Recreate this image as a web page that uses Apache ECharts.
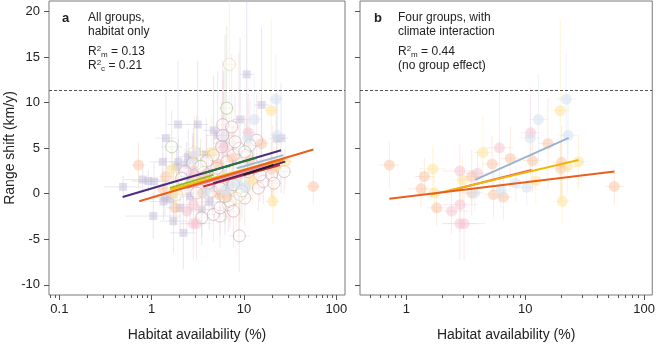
<!DOCTYPE html>
<html>
<head>
<meta charset="utf-8">
<script src="https://cdn.jsdelivr.net/npm/echarts@6/dist/echarts.min.js"></script>
<style>
  html, body { margin: 0; padding: 0; background: #fff; }
  #chart { width: 658px; height: 347px; }
</style>
</head>
<body>
<div id="chart"></div>
<script>
// 每个点: [habitat %, range shift, y误差半宽, x误差倍数]
var squarePts = [
    [0.49, 0.75, 1.2, 1.6], [0.80, 1.55, 1.5, 1.6], [0.92, 1.4, 1.2, 1.5], [1.06, 1.35, 2.0, 1.5],
    [1.32, 3.5, 3.0, 1.4], [1.43, 6.1, 5.0, 1.3], [1.04, -2.45, 2.5, 2.0], [1.93, 7.6, 7.0, 1.3],
    [3.15, 7.6, 7.0, 1.3], [2.2, -4.3, 4.0, 1.4], [1.72, -0.1, 2.5, 1.5], [1.39, -0.4, 2.0, 1.4],
    [3.07, 4.6, 4.0, 1.3], [2.82, 4.25, 3.0, 1.3], [3.48, -1.75, 3.0, 1.4], [2.39, 3.15, 2.5, 1.3],
    [4.69, 6.96, 6.0, 1.3], [5.18, 6.4, 7.0, 1.3], [5.98, 5.5, 8.0, 1.3], [6.23, 6.4, 11.0, 1.2],
    [9.06, 8.15, 9.0, 1.2], [10.7, 13.1, 9.0, 1.2], [15.5, 9.75, 8.5, 1.2], [22.6, 6.05, 5.0, 1.2],
    [25.2, 6.1, 6.0, 1.2], [1.94, 3.5, 2.5, 1.3], [2.49, 4.05, 3.0, 1.3], [1.34, -0.85, 2.0, 1.4],
    [1.72, -3.0, 3.5, 1.4], [2.03, -1.55, 2.5, 1.4], [1.86, 2.95, 2.5, 1.3], [2.49, 1.9, 2.5, 1.3],
    [2.82, 3.7, 3.0, 1.3], [1.58, -0.65, 2.0, 1.3], [2.6, -0.3, 2.5, 1.3], [4.6, 0.6, 3.0, 1.3],
    [3.9, 4.3, 4.0, 1.3], [7.0, 0.9, 4.0, 1.2], [4.2, -0.9, 3.0, 1.3]
];

var openMauve = [
    [5.88, 7.58, 7, 1.2], [7.36, 7.33, 8, 1.2], [5.88, 6.41, 6, 1.2], [5.72, 5.15, 5, 1.2],
    [4.65, 4.24, 4, 1.2], [3.94, 3.59, 3, 1.2], [2.78, 3.34, 3, 1.2], [2.3, 2.43, 2.5, 1.2],
    [2.11, 1.7, 2, 1.2], [3.07, 0.08, 2, 1.2], [4.46, 0.26, 2.5, 1.2], [5.5, 0.62, 2.5, 1.2],
    [7.67, 0.98, 3, 1.2], [9.06, -0.1, 3, 1.2], [10.2, -0.47, 3, 1.2], [6.77, -1.2, 3, 1.2],
    [5.5, -2.46, 3.5, 1.2], [4.65, -2.28, 3, 1.2], [3.48, -2.64, 3, 1.2], [5.5, -1.55, 3, 1.2],
    [7.05, -0.83, 3, 1.2], [7.67, -1.91, 4, 1.2], [8.89, -4.63, 4, 1.3], [14.3, 0.62, 2.5, 1.2],
    [16.2, 1.35, 2.5, 1.2], [19.9, 2.07, 2.5, 1.2], [21.1, 1.16, 2.5, 1.2], [27.2, 2.43, 2.5, 1.2],
    [13.7, 5.87, 5, 1.2], [11.1, 2.43, 3, 1.2], [12.6, 3.15, 3, 1.2], [14.9, 2.07, 3, 1.2],
    [7.67, 4.24, 4, 1.2], [8.8, 4.97, 10.5, 1.2], [8.0, 5.7, 5, 1.2], [10.7, 4.24, 4, 1.2],
    [11.6, 5.33, 5, 1.2], [4.11, 1.16, 2.5, 1.2], [5.06, 2.8, 3, 1.2], [3.68, 2.33, 2.5, 1.2],
    [6.5, 3.5, 4, 1.2]
];
var openGreen = [
    [6.49, 9.39, 9, 1.2], [10.2, 4.6, 4, 1.2], [1.65, 5.15, 4, 1.3], [6.2, -0.3, 3, 1.2],
    [9.5, 0.3, 3, 1.2], [3.4, 3.0, 3, 1.2]
];
var openYellow = [
    [6.94, 14.2, 9, 1.2], [1.86, -0.1, 2.5, 1.3], [2.9, 4.5, 4, 1.2], [8.2, -0.5, 3, 1.2]
];

// 四个类群(填充圆点), a 和 b 两图共用
var peachPts = [
    [0.72, 3.15, 2.5, 1.2], [1.42, 1.89, 2.0, 1.2], [1.33, 0.54, 2.0, 1.3], [1.80, -1.55, 2.0, 1.2],
    [3.55, 1.89, 3.0, 1.2], [3.55, 0.08, 2.5, 1.2], [5.27, 3.26, 3.0, 1.2], [5.41, -0.1, 2.5, 1.2],
    [6.55, -0.36, 2.5, 1.2], [7.49, 3.88, 3.5, 1.2], [11.5, 3.63, 3.5, 1.2], [15.5, 5.51, 5.0, 1.2],
    [20.2, 3.45, 4.0, 1.2], [19.9, 2.72, 3.0, 1.2], [56.2, 0.8, 2.0, 1.2]
];
var yellowPts = [
    [1.67, 2.72, 2.5, 1.3], [1.72, 0.08, 2.0, 1.3], [2.97, 1.52, 2.5, 1.2], [4.41, 4.53, 4.0, 1.2],
    [12.3, 1.41, 2.5, 1.2], [19.7, 9.13, 10.0, 1.2], [20.5, -0.83, 2.5, 1.2], [22.6, 2.98, 3.0, 1.2],
    [28.1, 3.52, 3.0, 1.2]
];
var pinkPts = [
    [2.82, 2.5, 3.0, 1.4], [3.96, 2.25, 2.5, 1.3], [2.40, -1.91, 2.5, 1.4], [2.83, -1.2, 3.0, 1.4],
    [2.82, -3.29, 4.0, 1.4], [3.06, -3.29, 4.0, 1.5], [6.07, 5.04, 6.0, 1.3], [11.1, 6.7, 5.0, 1.2]
];
var bluePts = [
    [3.76, 0.08, 2.0, 1.2], [6.25, 0.37, 2.0, 1.2], [8.34, 1.16, 2.0, 1.2], [10.3, 0.7, 2.0, 1.2],
    [11.0, 6.13, 4.0, 1.2], [12.9, 8.15, 5.0, 1.2], [22.1, 10.4, 5.0, 1.2], [22.9, 6.41, 4.0, 1.2]
];

// 回归线 [x1, y1, x2, y2, 颜色]
var linesA = [
    [0.485, -0.36, 25.2, 4.78, '#4b2b7f'],
    [1.58, 0.62, 4.65, 2.07, '#9bb82a'],
    [1.58, 0.43, 27.9, 3.88, '#f2c200'],
    [8.35, 2.8, 26.7, 4.24, '#9fbbd8'],
    [3.34, 1.16, 26.7, 3.7, '#f39a1e'],
    [2.39, 0.62, 17.6, 3.15, '#e88aa2'],
    [3.62, 0.8, 24.5, 3.15, '#d4283c'],
    [4.65, 1.16, 27.9, 3.52, '#5e1f52'],
    [9.85, 2.07, 20.8, 3.15, '#222222'],
    [3.62, 2.25, 13.7, 3.96, '#1e7b3a'],
    [0.734, -0.83, 56.4, 4.86, '#e8601c']
];
var linesB = [
    [3.78, 1.52, 23.2, 6.13, '#9ab3d3'],
    [2.30, 0.33, 11.3, 2.61, '#e55a6c'],
    [1.62, -0.1, 28.1, 3.7, '#f2b705'],
    [0.72, -0.54, 56.2, 2.43, '#e8601c']
];

var yTicks = [-10, -5, 0, 5, 10, 15, 20];
var xMajor = [0.1, 1, 10, 100];
var xMinor = [];
[0.01, 0.1, 1, 10].forEach(function (d) {
    for (var k = 2; k <= 9; k++) xMinor.push(+(d * k).toPrecision(3));
});
var dashY = 11.38;
var yMin = -11.12, yMax = 21.16;

var font = '"Liberation Sans", Arial, sans-serif';

function errBars(name, pts, color, gi) {
    return {
        name: name,
        type: 'custom',
        xAxisIndex: gi * 2,
        yAxisIndex: gi,
        silent: true,
        data: pts,
        z: 1,
        renderItem: function (params, api) {
            var x = api.value(0), y = api.value(1), ye = api.value(2), xf = api.value(3);
            var v1 = api.coord([x, y - ye]), v2 = api.coord([x, y + ye]);
            var h1 = api.coord([x / xf, y]), h2 = api.coord([x * xf, y]);
            var st = {stroke: color, lineWidth: 1};
            return {
                type: 'group',
                children: [
                    {type: 'line', shape: {x1: v1[0], y1: v1[1], x2: v2[0], y2: v2[1]}, style: st},
                    {type: 'line', shape: {x1: h1[0], y1: h1[1], x2: h2[0], y2: h2[1]}, style: st}
                ]
            };
        }
    };
}

function pointSeries(pts, symbol, size, itemStyle, gi) {
    return {
        type: 'scatter',
        xAxisIndex: gi * 2,
        yAxisIndex: gi,
        symbol: symbol,
        symbolSize: size,
        silent: true,
        data: pts.map(function (p) { return [p[0], p[1]]; }),
        itemStyle: itemStyle,
        z: 2
    };
}

function lineSeries(lines, gi) {
    return lines.map(function (l) {
        return {
            type: 'line',
            xAxisIndex: gi * 2,
            yAxisIndex: gi,
            data: [[l[0], l[1]], [l[2], l[3]]],
            showSymbol: false,
            silent: true,
            lineStyle: {color: l[4], width: 2},
            z: 3
        };
    });
}

function dashSeries(gi) {
    return {
        type: 'line',
        xAxisIndex: gi * 2,
        yAxisIndex: gi,
        data: [],
        markLine: {
            silent: true,
            symbol: 'none',
            label: {show: false},
            lineStyle: {type: [3, 2], color: '#555', width: 1},
            data: [{yAxis: dashY}]
        }
    };
}

function xAxes(gi, min, max) {
    return [
        {
            type: 'log', logBase: 10, gridIndex: gi, min: min, max: max, position: 'bottom',
            axisLine: {show: false, onZero: false}, splitLine: {show: false},
            axisTick: {show: true, length: 5, customValues: xMajor, lineStyle: {color: '#555'}},
            axisLabel: {
                customValues: xMajor, margin: 8, fontSize: 13, color: '#222', fontFamily: font,
                formatter: function (v) { return String(+v.toPrecision(3)); }
            },
            name: 'Habitat availability (%)', nameLocation: 'middle', nameGap: 33,
            nameTextStyle: {fontSize: 14, color: '#222', fontFamily: font}
        },
        {
            type: 'log', logBase: 10, gridIndex: gi, min: min, max: max, position: 'bottom',
            axisLine: {show: false, onZero: false}, splitLine: {show: false}, axisLabel: {show: false},
            axisTick: {show: true, length: 3, customValues: xMinor, lineStyle: {color: '#555'}}
        }
    ];
}

var pctFill = function (c) { return {color: c}; };

var series = [];
[0, 1].forEach(function (gi) {
    if (gi === 0) {
        series.push(errBars('sqErr', squarePts, 'rgba(205,200,225,0.45)', 0));
        series.push(errBars('mvErr', openMauve, 'rgba(238,205,210,0.45)', 0));
        series.push(errBars('grErr', openGreen, 'rgba(205,222,185,0.5)', 0));
        series.push(errBars('ylErr', openYellow, 'rgba(250,232,175,0.5)', 0));
    }
    series.push(errBars('peErr', peachPts, 'rgba(250,205,178,0.4)', gi));
    series.push(errBars('yeErr', yellowPts, 'rgba(252,228,160,0.4)', gi));
    series.push(errBars('piErr', pinkPts, 'rgba(245,200,210,0.4)', gi));
    series.push(errBars('blErr', bluePts, 'rgba(218,228,242,0.45)', gi));
    if (gi === 0) {
        series.push(pointSeries(squarePts, 'rect', 8, pctFill('rgba(190,182,215,0.55)'), 0));
        var openStyle = function (c) { return {color: 'rgba(255,255,255,0.55)', borderColor: c, borderWidth: 1}; };
        series.push(pointSeries(openMauve, 'circle', 12, openStyle('rgba(190,140,150,0.6)'), 0));
        series.push(pointSeries(openGreen, 'circle', 12, openStyle('rgba(150,185,120,0.65)'), 0));
        series.push(pointSeries(openYellow, 'circle', 12, openStyle('rgba(230,205,130,0.65)'), 0));
    }
    series.push(pointSeries(peachPts, 'circle', 11, pctFill('rgba(248,192,158,0.6)'), gi));
    series.push(pointSeries(yellowPts, 'circle', 11, pctFill('rgba(252,224,145,0.6)'), gi));
    series.push(pointSeries(pinkPts, 'circle', 11, pctFill('rgba(244,190,204,0.6)'), gi));
    series.push(pointSeries(bluePts, 'circle', 11, pctFill('rgba(214,226,241,0.7)'), gi));
    series = series.concat(lineSeries(gi === 0 ? linesA : linesB, gi));
    series.push(dashSeries(gi));
});

var richR = {
    sup: {fontSize: 8, fontFamily: font, color: '#222', verticalAlign: 'top', lineHeight: 14},
    sub: {fontSize: 8, fontFamily: font, color: '#222', verticalAlign: 'bottom', lineHeight: 10, padding: [6, 0, 0, 0]}
};
function txt(x, y, s, extra) {
    var style = {text: s, x: x, y: y, font: '12px ' + font, fill: '#222', textVerticalAlign: 'middle'};
    if (extra) for (var k in extra) style[k] = extra[k];
    return {type: 'text', style: style, silent: true};
}

var chart = echarts.init(document.getElementById('chart'));
var option = {
    animation: false,
    grid: [
        {left: 49, top: 1, width: 296, height: 297, show: true, borderColor: '#7a7a7a', borderWidth: 1},
        {left: 360, top: 1, width: 295, height: 297, show: true, borderColor: '#7a7a7a', borderWidth: 1}
    ],
    xAxis: xAxes(0, 0.0773, 124).concat(xAxes(1, 0.408, 117)),
    yAxis: [
        {
            type: 'value', gridIndex: 0, min: yMin, max: yMax,
            axisLine: {show: false}, splitLine: {show: false},
            axisTick: {show: true, length: 5, customValues: yTicks, lineStyle: {color: '#555'}},
            axisLabel: {customValues: yTicks, margin: 9, fontSize: 13, color: '#222', fontFamily: font},
            name: 'Range shift (km/y)', nameLocation: 'middle', nameGap: 31, nameRotate: 90,
            nameTextStyle: {fontSize: 14, color: '#222', fontFamily: font}
        },
        {
            type: 'value', gridIndex: 1, min: yMin, max: yMax,
            axisLine: {show: false}, splitLine: {show: false},
            axisTick: {show: true, length: 5, customValues: yTicks, lineStyle: {color: '#555'}},
            axisLabel: {show: false}
        }
    ],
    graphic: [
        txt(62, 18, 'a', {font: 'bold 13px ' + font}),
        txt(88, 18, 'All groups,'),
        txt(88, 32, 'habitat only'),
        txt(88, 52, 'R{sup|2}{sub|m} = 0.13', {rich: richR}),
        txt(88, 66, 'R{sup|2}{sub|c} = 0.21', {rich: richR}),
        txt(374, 18, 'b', {font: 'bold 13px ' + font}),
        txt(398, 18, 'Four groups, with'),
        txt(398, 32, 'climate interaction'),
        txt(398, 52, 'R{sup|2}{sub|m} = 0.44', {rich: richR}),
        txt(398, 66, '(no group effect)')
    ],
    series: series
};
chart.setOption(option);
</script>
</body>
</html>
